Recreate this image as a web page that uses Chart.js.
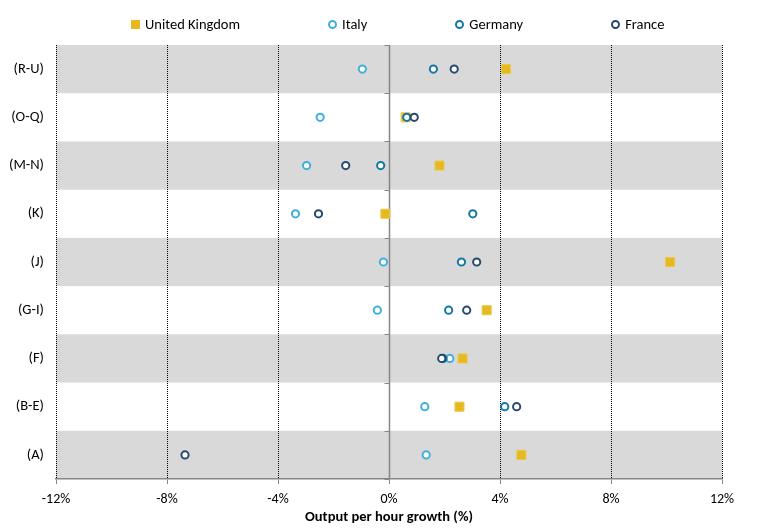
<!DOCTYPE html>
<html>
<head>
<meta charset="utf-8">
<script src="https://cdn.jsdelivr.net/npm/chart.js@4/dist/chart.umd.min.js"></script>
<style>
  html, body { margin: 0; padding: 0; background: #fff; }
  #wrap { position: relative; width: 758px; height: 531px; font-family: Carlito, Lato, sans-serif; }
  #legend { position: absolute; top: 15px; left: 131px; display: flex; gap: 88px; font-size: 14.5px; color: #000; }
  #legend .item { display: flex; align-items: center; white-space: nowrap; }
  #legend .mk { display: inline-block; margin-right: 5px; box-sizing: border-box; }
  #legend .sq { width: 9px; height: 9px; }
  #legend .ci { width: 9px; height: 9px; border-radius: 50%; border: 2px solid; background: #fff; }
  canvas { position: absolute; left: 0; top: 0; }
</style>
</head>
<body>
<div id="wrap">
  <canvas id="dotChart" width="758" height="531"></canvas>
  <div id="legend"></div>
</div>
<script>
// categories top to bottom
const categories = ["(R-U)", "(O-Q)", "(M-N)", "(K)", "(J)", "(G-I)", "(F)", "(B-E)", "(A)"];

// output per hour growth, %
const ukValues      = [4.22, 0.60, 1.82, -0.13, 10.13, 3.52, 2.65, 2.54, 4.77];
const italyValues   = [-0.96, -2.48, -2.97, -3.37, -0.20, -0.42, 2.19, 1.29, 1.34];
const germanyValues = [1.60, 0.64, -0.30, 3.02, 2.61, 2.15, 1.95, 4.17, null];
const franceValues  = [2.35, 0.91, -1.56, -2.54, 3.16, 2.80, 1.90, 4.60, -7.35];

const xTicks = [-12, -8, -4, 0, 4, 8, 12];

const FONT = "Carlito, Lato, sans-serif";

const series = [
    { name: "United Kingdom", values: ukValues,      color: "#E6B91E", style: "rect",   order: 4 },
    { name: "Italy",          values: italyValues,   color: "#41AFDD", style: "circle", order: 3 },
    { name: "Germany",        values: germanyValues, color: "#1478A6", style: "circle", order: 2 },
    { name: "France",         values: franceValues,  color: "#264A6E", style: "circle", order: 1 }
];

/* =========================
   HTML LEGEND
========================= */
const legendEl = document.getElementById("legend");
series.forEach(s => {
    const item = document.createElement("div");
    item.className = "item";
    const mk = document.createElement("span");
    if (s.style === "rect") {
        mk.className = "mk sq";
        mk.style.background = s.color;
    } else {
        mk.className = "mk ci";
        mk.style.borderColor = s.color;
    }
    item.appendChild(mk);
    item.appendChild(document.createTextNode(s.name));
    legendEl.appendChild(item);
});

/* =========================
   BANDS + GRID PLUGIN
========================= */
const bandPlugin = {
    id: "bands",
    beforeDraw(chart) {
        const { ctx, chartArea, scales } = chart;
        const y = scales.y;
        const step = (chartArea.bottom - chartArea.top) / categories.length;
        ctx.save();
        ctx.fillStyle = "#D9D9D9";
        categories.forEach((c, i) => {
            if (i % 2 === 0) {
                const cy = y.getPixelForValue(i);
                ctx.fillRect(chartArea.left, cy - step / 2, chartArea.right - chartArea.left, step);
            }
        });
        ctx.restore();
    },
    beforeDatasetsDraw(chart) {
        const { ctx, chartArea, scales } = chart;
        const x = scales.x, y = scales.y;
        const step = (chartArea.bottom - chartArea.top) / categories.length;
        ctx.save();
        xTicks.forEach(v => {
            const px = Math.round(x.getPixelForValue(v)) + 0.5;
            ctx.beginPath();
            if (v === 0) {
                ctx.setLineDash([]);
                ctx.strokeStyle = "#868686";
                ctx.lineWidth = 1.5;
            } else {
                ctx.setLineDash([1, 1]);
                ctx.strokeStyle = "#000";
                ctx.lineWidth = 1;
            }
            ctx.moveTo(px, chartArea.top);
            ctx.lineTo(px, chartArea.bottom);
            ctx.stroke();
        });
        // small ticks on the zero line at row boundaries
        const zx = Math.round(x.getPixelForValue(0)) + 0.5;
        ctx.setLineDash([]);
        ctx.strokeStyle = "#868686";
        ctx.lineWidth = 1;
        for (let i = 0; i <= categories.length; i++) {
            const by = Math.round(y.getPixelForValue(i) - step / 2) + 0.5;
            ctx.beginPath();
            ctx.moveTo(zx - 5, by);
            ctx.lineTo(zx, by);
            ctx.stroke();
        }
        ctx.restore();
    }
};

/* =========================
   CHART
========================= */
const datasets = series.map(s => ({
    label: s.name,
    data: s.values.map((v, i) => v === null ? null : { x: v, y: categories[i] }).filter(p => p !== null),
    pointStyle: s.style,
    pointRadius: s.style === "rect" ? 6.4 : 3.6,
    pointHoverRadius: s.style === "rect" ? 6.4 : 3.6,
    borderWidth: s.style === "rect" ? 1 : 2,
    borderColor: s.style === "rect" ? "#EBC752" : s.color,
    backgroundColor: s.style === "rect" ? s.color : "#FFFFFF",
    order: s.order,
    showLine: false
}));

new Chart(document.getElementById("dotChart").getContext("2d"), {
    type: "scatter",
    data: { datasets },
    plugins: [bandPlugin],
    options: {
        responsive: false,
        animation: false,
        devicePixelRatio: 1,
        layout: { padding: { left: 6, right: 36, top: 45, bottom: 0 } },
        plugins: {
            legend: { display: false },
            tooltip: { enabled: false }
        },
        scales: {
            x: {
                type: "linear",
                min: -12,
                max: 12,
                afterBuildTicks: scale => { scale.ticks = xTicks.map(v => ({ value: v })); },
                afterFit: scale => { scale.height = 52; },
                ticks: {
                    callback: v => v + "%",
                    color: "#000",
                    font: { family: FONT, size: 14 },
                    padding: 7,
                    maxRotation: 0
                },
                grid: { drawOnChartArea: false, drawTicks: true, tickLength: 5, tickColor: "#868686" },
                border: { display: true, color: "#868686", width: 1.5 },
                title: {
                    display: true,
                    text: "Output per hour growth (%)",
                    color: "#000",
                    font: { family: FONT, size: 14.5, weight: "bold" },
                    padding: { top: 2, bottom: 5 }
                }
            },
            y: {
                type: "category",
                labels: categories,
                offset: true,
                afterFit: scale => { scale.width = 50; },
                ticks: {
                    color: "#000",
                    font: { family: FONT, size: 14.5 },
                    padding: 4
                },
                grid: { display: false },
                border: { display: false }
            }
        }
    }
});
</script>
</body>
</html>
